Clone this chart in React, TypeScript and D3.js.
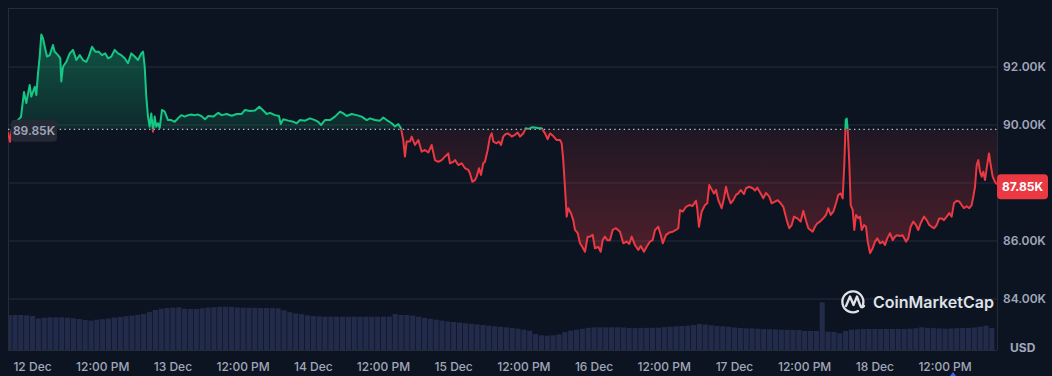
import React from 'react';
import * as d3 from 'd3';

const W = 1052;
const H = 376;

// [hours since 12 Dec 00:00, price in K USD]
const priceSeries: [number, number][] = [
  [-4.19,89.75],[-3.85,89.42],[-3.50,89.9],[-2.82,90.1],[-1.97,90.28],[-1.45,91.14],[-1.06,90.76],[-0.48,91.38],[-0.21,90.98],[0.38,91.32],[0.65,91.03],[0.94,91.78],[1.23,92.36],[1.50,93.12],[1.79,92.99],[2.09,92.7],[2.48,92.36],[2.94,92.41],[3.50,92.76],[3.79,92.53],[4.36,92.41],[4.75,92.3],[4.92,91.5],[5.21,92.01],[5.78,92.18],[6.36,92.47],[6.92,92.59],[7.49,92.24],[8.07,92.41],[8.63,92.24],[9.20,92.18],[9.61,92.36],[10.17,92.7],[10.74,92.53],[11.32,92.53],[11.88,92.41],[12.44,92.47],[12.91,92.3],[13.47,92.36],[14.05,92.59],[14.62,92.47],[15.18,92.41],[15.76,92.3],[16.32,92.13],[16.89,92.47],[17.47,92.36],[18.03,92.24],[18.60,92.47],[18.89,92.53],[19.18,92.01],[19.45,90.98],[19.74,90.29],[20.03,89.94],[20.31,90.4],[20.60,89.77],[20.89,90.29],[21.16,89.94],[21.45,90.06],[21.74,89.9],[22.14,90.52],[22.60,90.46],[23.16,90.17],[23.73,90.17],[24.31,90.11],[24.87,90.23],[25.44,90.34],[26.02,90.29],[26.58,90.34],[27.15,90.36],[27.73,90.34],[28.29,90.36],[28.85,90.31],
  [29.49,90.2],[30.05,90.31],[30.91,90.29],[31.76,90.42],[32.34,90.34],[33.20,90.38],[34.05,90.32],[34.91,90.38],[35.76,90.38],[36.32,90.52],[37.18,90.48],[38.03,90.5],[38.77,90.63],[39.45,90.5],[40.03,90.38],[40.60,90.42],[41.45,90.34],[42.14,90.31],[42.43,90.03],[42.87,90.2],[43.73,90.15],[44.58,90.11],[45.16,90.06],[45.73,90.17],[46.58,90.15],[47.44,90.23],[48.29,90.17],[48.85,90.11],[49.32,90.0],[50.00,90.17],[50.86,90.17],[51.71,90.29],[52.57,90.46],[53.13,90.4],[53.71,90.31],[54.56,90.38],[55.42,90.34],[56.27,90.29],[57.13,90.17],[57.69,90.23],[58.55,90.17],[59.40,90.15],[59.97,90.26],[60.55,90.17],[61.40,90.06],[61.97,89.95],[62.53,90.03],
  [62.99,89.89],[63.38,89.48],[63.67,88.91],[63.96,89.43],[64.53,89.43],[64.82,89.6],[65.38,89.31],[65.95,89.48],[66.53,89.08],[67.09,89.14],[67.66,89.05],[68.24,89.31],[68.80,88.79],[69.37,88.73],[69.95,88.79],[70.51,88.91],[71.07,89.02],[71.36,88.68],[71.93,88.73],[72.22,88.79],[72.79,88.62],[73.37,88.68],[73.93,88.51],[74.50,88.45],[74.79,88.33],[75.18,88.04],[75.64,88.1],[75.93,88.22],[76.32,88.51],[76.67,88.28],[77.06,88.68],[77.35,88.73],[77.81,89.14],[78.21,89.6],[78.50,89.71],[78.77,89.43],[79.35,89.37],[79.75,89.43],[80.09,89.31],[80.48,89.6],[80.89,89.69],[81.33,89.71],[81.91,89.6],[82.48,89.66],[82.94,89.74],[83.33,89.6],[83.90,89.71],[84.31,89.89],[84.75,89.86],[85.33,89.92],[85.90,89.91],[86.58,89.89],[87.04,89.89],[87.61,89.71],[88.07,89.51],[88.46,89.71],[89.03,89.62],[89.61,89.48],[90.17,89.48],[90.46,89.37],[90.73,88.79],[91.02,87.87],[91.32,86.84],[91.59,87.13],[92.05,86.96],[92.44,86.72],[92.74,86.38],[93.20,86.27],[93.59,85.92],[93.98,85.8],[94.44,85.63],[94.91,86.15],[95.30,86.15],
  [95.76,86.21],[96.15,85.75],[96.72,85.8],[97.13,85.63],[97.47,86.03],[97.86,86.15],[98.26,86.03],[98.72,86.03],[99.18,86.38],[99.74,86.44],[100.43,86.32],[100.99,85.92],[101.57,85.98],[102.02,85.9],[102.43,86.15],[102.99,85.86],[103.56,85.69],[103.97,85.83],[104.53,85.63],[104.99,85.8],[105.56,85.98],[106.02,86.03],[106.42,86.38],[106.98,86.49],[107.39,86.21],[107.74,85.92],[108.30,86.21],[108.86,86.29],[109.44,86.32],[110.01,86.38],[110.40,86.44],[110.69,87.07],[111.15,87.01],[111.72,87.18],[112.27,87.24],[112.85,87.21],[113.42,87.39],[113.64,87.12],[113.93,86.49],[114.39,87.01],[114.96,87.24],[115.35,87.3],[115.69,87.93],[116.10,87.78],[116.50,87.64],[116.84,87.76],[117.23,87.41],[117.81,87.13],[118.21,87.47],[118.55,87.87],[118.94,87.53],[119.35,87.3],[119.80,87.41],[120.26,87.59],[120.65,87.64],[121.06,87.76],[121.63,87.62],[121.97,87.82],[122.53,87.87],[123.11,87.82],[123.51,87.74],[123.90,87.84],[124.48,87.64],[124.93,87.47],[125.39,87.66],[125.95,87.53],[126.36,87.3],[126.93,87.36],[127.39,87.41],[127.90,87.3],[128.35,87.18],[128.93,86.72],[129.37,86.44],[129.78,86.55],[130.18,86.84],[130.74,86.78],[131.32,86.67],[131.77,87.04],[132.23,86.7],[132.62,86.44],
  [133.37,86.32],[133.76,86.49],[134.16,86.61],[134.62,86.67],[135.18,86.78],[135.65,86.9],[136.04,87.13],[136.45,86.9],[136.90,87.01],[137.36,87.3],[137.75,87.59],[138.16,87.64],[138.50,87.47],[138.78,88.68],[139.02,90.17],[139.19,90.22],[139.36,89.83],[139.63,88.68],[139.87,87.24],[140.21,87.07],[140.49,86.38],[140.78,86.9],[141.17,86.79],[141.46,86.84],[141.75,86.38],[142.15,86.55],[142.49,86.49],[142.78,85.98],[143.17,85.58],[143.63,85.75],[144.03,85.98],[144.42,86.09],[144.88,85.92],[145.34,85.98],[145.73,85.86],[146.12,86.09],[146.58,86.27],[147.05,86.03],[147.44,86.15],[147.83,86.2],[148.29,86.17],[148.75,86.2],[149.32,85.98],[149.71,86.09],[150.12,86.49],[150.57,86.67],[151.03,86.55],[151.42,86.38],[151.83,86.61],[152.40,86.84],[152.85,86.72],[153.30,86.55],[153.71,86.49],[154.10,86.44],[154.56,86.55],[155.01,86.78],[155.42,86.78],[155.81,86.72],[156.28,86.84],[156.72,86.96],[157.13,86.84],[157.52,87.3],[157.99,87.39],[158.43,87.36],[158.84,87.24],[159.24,87.13],[159.70,87.2],[160.14,87.13],[160.55,87.24],[160.83,87.53],[161.12,87.87],[161.41,88.62],[161.68,88.79],[161.97,88.39],[162.26,88.22],[162.54,88.39],[162.83,88.1],[163.12,88.51],[163.51,89.02],[163.80,88.62],[164.14,88.22],[164.53,88.04],[164.88,87.95],
];

// hourly 24h volume (billions USD), first bar at hour -4
const volumeStartHour = -4;
const volumeValues: number[] = [
  56.0, 56.0, 56.0, 55.5,
  54.5, 50.5, 51.5, 52.3, 52.3, 52.3, 51.8, 50.7, 49.5, 48.0, 47.0, 48.5,
  49.3, 50.5, 51.8, 53.0, 54.0, 55.0, 56.3, 57.5, 61.0, 64.0, 66.0, 67.2,
  67.8, 68.3, 66.0, 65.6, 65.6, 66.8, 67.8, 68.5, 69.0, 69.3, 69.0, 68.0,
  67.7, 67.5, 67.3, 67.2, 67.2, 67.0, 66.7, 63.5, 60.5, 58.5, 57.2, 55.5,
  54.4, 53.8, 53.3, 53.3, 53.3, 53.3, 53.3, 53.3, 53.3, 53.3, 53.3, 53.3,
  53.3, 53.3, 57.6, 56.0, 56.0, 55.0, 53.3, 51.5, 50.0, 48.5, 47.0, 45.6,
  44.8, 43.8, 42.8, 42.0, 41.0, 40.0, 39.0, 37.8, 37.2, 36.3, 35.2, 34.0,
  32.5, 30.9, 25.5, 23.5, 22.9, 23.5, 25.0, 28.5, 31.0, 32.5, 34.0, 35.5,
  36.3, 36.3, 36.3, 36.3, 36.3, 36.0, 35.2, 35.0, 35.3, 35.5, 35.7, 35.7,
  36.5, 37.2, 37.8, 38.5, 39.0, 40.0, 41.6, 40.8, 39.5, 38.5, 37.8, 37.0,
  36.0, 35.2, 34.7, 34.5, 34.0, 33.5, 33.1, 32.8, 32.5, 32.3, 32.0, 32.0,
  30.4, 30.4, 30.4, 76.3, 29.3, 29.0, 26.7, 30.4, 32.5, 33.1, 33.6, 33.6,
  33.6, 33.6, 33.6, 33.6, 33.6, 33.6, 34.1, 34.7, 36.3, 35.5, 35.0, 34.5,
  34.1, 34.5, 35.0, 35.2, 35.2, 36.0, 37.3, 38.9, 35.2,
];

const xTickHours = [0, 12, 24, 36, 48, 60, 72, 84, 96, 108, 120, 132, 144, 156];
const xTickLabels = ['12 Dec', '12:00 PM', '13 Dec', '12:00 PM', '14 Dec', '12:00 PM', '15 Dec', '12:00 PM', '16 Dec', '12:00 PM', '17 Dec', '12:00 PM', '18 Dec', '12:00 PM'];
const yTicks = [84, 86, 88, 90, 92];
const yTickLabels = ['84.00K', '86.00K', '88.00K', '90.00K', '92.00K'];
const openPrice = 89.85;
const openLabel = '89.85K';
const lastPrice = 87.85;
const lastLabel = '87.85K';

const GREEN = '#16c784';
const RED = '#ea3943';
const BG = '#0d1421';
const GRID = '#262b38';
const TXT = '#a1a7bb';
const FONT = 'Inter, "Noto Sans", sans-serif';

export default function App() {
  const left = 8, right = 997, top = 8, bottom = 350;
  const x = d3.scaleLinear().domain([priceSeries[0][0], priceSeries[priceSeries.length - 1][0]]).range([left, right]);
  const y = d3.scaleLinear().domain([84, 94]).range([299, 9]);
  const v = d3.scaleLinear().domain([0, 80]).range([bottom, bottom - 50]);
  const base = y(openPrice);
  const lastY = y(lastPrice);

  const line = d3.line<[number, number]>().x(d => x(d[0])).y(d => y(d[1]));
  const area = d3.area<[number, number]>().x(d => x(d[0])).y0(base).y1(d => y(d[1]));
  const linePath = line(priceSeries) || '';
  const areaPath = area(priceSeries) || '';

  const step = x(1) - x(0);
  const barW = step - 0.7;

  return (
    <div style={{ position: 'fixed', left: 0, top: 0, width: W, height: H, background: BG }}>
      <svg width={W} height={H} style={{ display: 'block' }} fontFamily={FONT}>
        <defs>
          <clipPath id="clipUp"><rect x={left} y={top} width={right - left} height={base - top} /></clipPath>
          <clipPath id="clipDown"><rect x={left} y={base} width={right - left} height={bottom - base} /></clipPath>
          <linearGradient id="gUp" gradientUnits="userSpaceOnUse" x1="0" y1={y(93)} x2="0" y2={base}>
            <stop offset="0" stopColor={GREEN} stopOpacity={0.36} />
            <stop offset="1" stopColor={GREEN} stopOpacity={0.12} />
          </linearGradient>
          <linearGradient id="gDown" gradientUnits="userSpaceOnUse" x1="0" y1={base} x2="0" y2={y(85.5)}>
            <stop offset="0" stopColor={RED} stopOpacity={0.08} />
            <stop offset="1" stopColor={RED} stopOpacity={0.3} />
          </linearGradient>
        </defs>
        <rect x={0} y={0} width={W} height={H} fill={BG} />

        {/* grid */}
        {yTicks.map(t => (
          <line key={t} x1={left} x2={right} y1={y(t)} y2={y(t)} stroke={GRID} strokeWidth={1} />
        ))}
        <line x1={left} x2={right} y1={top + 0.5} y2={top + 0.5} stroke={GRID} />
        <line x1={left + 0.5} x2={left + 0.5} y1={top} y2={bottom} stroke={GRID} />
        <line x1={right + 0.5} x2={right + 0.5} y1={top} y2={bottom} stroke={GRID} />
        <line x1={left} x2={right} y1={bottom + 0.5} y2={bottom + 0.5} stroke={GRID} />

        {/* volume */}
        <g fill="#222b4a">
          {volumeValues.map((val, i) => {
            const h = volumeStartHour + i;
            const cx = x(h);
            const x0 = Math.max(left + 1, cx - barW / 2);
            const x1 = Math.min(right, cx + barW / 2);
            if (x1 <= x0) return null;
            return <rect key={i} x={x0} y={v(val)} width={x1 - x0} height={bottom - v(val)} />;
          })}
        </g>

        {/* areas */}
        <path d={areaPath} fill="url(#gUp)" clipPath="url(#clipUp)" />
        <path d={areaPath} fill="url(#gDown)" clipPath="url(#clipDown)" />

        {/* baseline */}
        <line x1={left} x2={right} y1={base} y2={base} stroke="#b7bdc9" strokeWidth={1.2} strokeDasharray="1.4 3.3" />

        {/* lines */}
        <path d={linePath} fill="none" stroke={GREEN} strokeWidth={2} strokeLinejoin="round" clipPath="url(#clipUp)" />
        <path d={linePath} fill="none" stroke={RED} strokeWidth={2} strokeLinejoin="round" clipPath="url(#clipDown)" />

        {/* y labels (hidden where the last-price tag covers them) */}
        {yTicks.map((t, i) => (
          Math.abs(y(t) - lastY) < 16 ? null :
          <text key={t} x={1003} y={y(t)} dy="0.35em" fontSize={12} fontWeight={600} fill={TXT}>{yTickLabels[i]}</text>
        ))}
        <text x={1010} y={348} dy="0.35em" fontSize={12} fontWeight={700} fill={TXT}>USD</text>

        {/* x labels */}
        {xTickHours.map((h, i) => (
          <text key={i} x={x(h)} y={367} dy="0.35em" textAnchor="middle" fontSize={12} fontWeight={500} fill={TXT}>{xTickLabels[i]}</text>
        ))}

        {/* open price label */}
        <rect x={11} y={base - 9.5} width={46} height={22} rx={4} fill="#252936" />
        <text x={34} y={base + 1.5} dy="0.35em" textAnchor="middle" fontSize={12} fontWeight={600} fill={TXT}>{openLabel}</text>

        {/* last price label */}
        <rect x={997} y={lastY - 13} width={51} height={25} rx={4} fill={RED} />
        <text x={1022.5} y={lastY - 0.5} dy="0.35em" textAnchor="middle" fontSize={12} fontWeight={700} fill="#ffffff">{lastLabel}</text>

        {/* watermark */}
        <g stroke="#dfe2e8" fill="none" strokeWidth={2.3} strokeLinecap="round" strokeLinejoin="round">
          <path d="M 862.5 306 A 10.5 10.5 0 1 0 858 311" />
          <path d="M 846 306 L 850 296.5 L 853.5 305 L 857 296.5 L 860 305 Q 861.5 309 864 306" />
        </g>
        <text x={873} y={302} dy="0.35em" fontSize={16} fontWeight={600} fill="#dfe2e8">CoinMarketCap</text>

        {/* marker */}
        <path d="M 950 376 L 953 372 L 956 376 Z" fill="#3861fb" />
      </svg>
    </div>
  );
}
